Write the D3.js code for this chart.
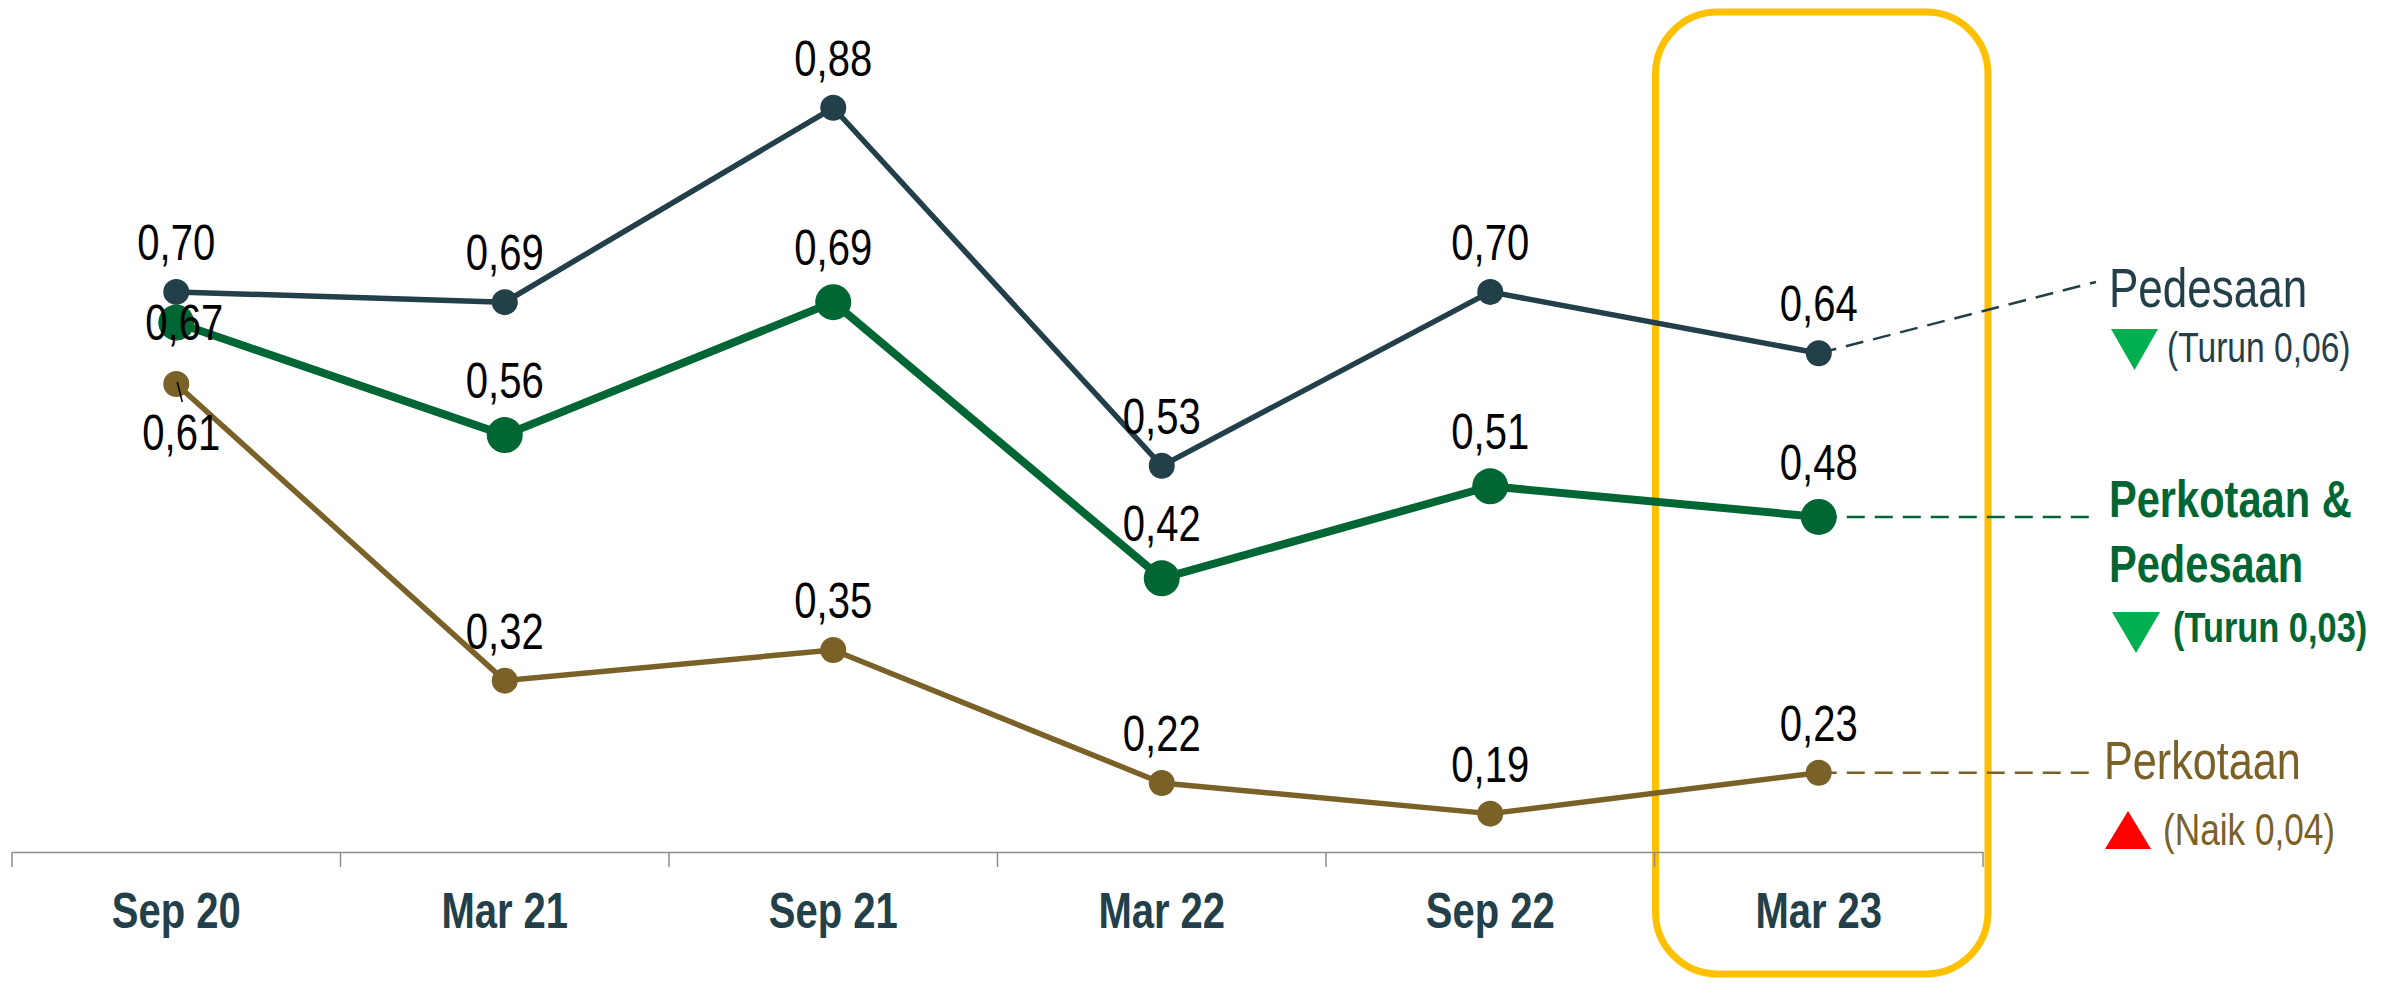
<!DOCTYPE html>
<html>
<head>
<meta charset="utf-8">
<script src="https://cdn.jsdelivr.net/npm/d3@7"></script>
<style>
    body { margin: 0; background: #ffffff; }
    svg text { font-family: "Liberation Sans", Arial, sans-serif; }
</style>
</head>
<body>
<div id="chart"></div>
<script>
// periods on the x axis
const periods = ["Sep 20", "Mar 21", "Sep 21", "Mar 22", "Sep 22", "Mar 23"];

// series values (Indeks Keparahan Kemiskinan)
const pedesaan = [0.70, 0.69, 0.88, 0.53, 0.70, 0.64];
const gabungan = [0.67, 0.56, 0.69, 0.42, 0.51, 0.48];
const perkotaan = [0.61, 0.32, 0.35, 0.22, 0.19, 0.23];

const W = 2387, H = 983;
// no narrow font installed, so squeeze the text horizontally
const NARROW = 0.8;

const svg = d3.select("#chart").append("svg")
    .attr("width", W)
    .attr("height", H);

// scales
const x = d3.scaleBand().domain(periods).range([12, 1983]);
const y = d3.scaleLinear().domain([0, 1]).range([1008, -15]);
const cx = (d) => x(d) + x.bandwidth() / 2;
const axisY = 852;

const fmt = (v) => d3.format(".2f")(v).replace(".", ",");
const place = (px, py) => `translate(${px},${py}) scale(${NARROW},1)`;

// highlight box around the latest period
svg.append("rect")
    .attr("x", x("Mar 23") + 1)
    .attr("y", 12)
    .attr("width", x.bandwidth() + 4)
    .attr("height", 962)
    .attr("rx", 62)
    .attr("ry", 62)
    .attr("fill", "none")
    .attr("stroke", "#ffc000")
    .attr("stroke-width", 7);

// x axis
const xAxis = d3.axisBottom(x).tickSize(0).tickSizeOuter(0);
const xAxisGroup = svg.append("g")
    .attr("class", "axis x-axis")
    .attr("transform", "translate(0," + axisY + ")")
    .call(xAxis);
xAxisGroup.select(".domain").attr("stroke", "#8c8c8c").attr("stroke-width", 1.5);
xAxisGroup.selectAll("text")
    .attr("y", 0)
    .attr("dy", 0)
    .attr("transform", place(0, 76))
    .attr("font-size", "50px")
    .attr("font-weight", "bold")
    .attr("fill", "#223f4a")
    .style("font-family", "'Liberation Sans', Arial, sans-serif");

// ticks between the bands
const bounds = periods.map((p) => x(p)).concat([x.range()[1]]);
xAxisGroup.selectAll("line.sep")
    .data(bounds)
    .enter()
    .append("line")
    .attr("class", "sep")
    .attr("x1", (d) => d)
    .attr("x2", (d) => d)
    .attr("y1", 0)
    .attr("y2", 15)
    .attr("stroke", "#8c8c8c")
    .attr("stroke-width", 1.5);

const series = [
    { name: "pedesaan", values: pedesaan, color: "#223f4a", width: 5.5, r: 13 },
    { name: "gabungan", values: gabungan, color: "#006633", width: 8, r: 18 },
    { name: "perkotaan", values: perkotaan, color: "#7a6128", width: 5.5, r: 13 },
];

// dashed leaders to the annotations on the right
const last = periods.length - 1;
const leaders = [
    { s: pedesaan, ty: 282, color: "#223f4a" },
    { s: gabungan, ty: null, color: "#006633" },
    { s: perkotaan, ty: null, color: "#7a6128" },
];
svg.selectAll("line.leader")
    .data(leaders)
    .enter()
    .append("line")
    .attr("class", "leader")
    .attr("x1", cx(periods[last]))
    .attr("y1", (d) => y(d.s[last]))
    .attr("x2", 2096)
    .attr("y2", (d) => (d.ty === null ? y(d.s[last]) : d.ty))
    .attr("stroke", (d) => d.color)
    .attr("stroke-width", 2.5)
    .attr("stroke-dasharray", "18,10");

const line = d3.line()
    .x((d, i) => cx(periods[i]))
    .y((d) => y(d));

series.forEach((s) => {
    svg.append("path")
        .datum(s.values)
        .attr("fill", "none")
        .attr("stroke", s.color)
        .attr("stroke-width", s.width)
        .attr("stroke-linejoin", "round")
        .attr("d", line);
});

series.forEach((s) => {
    svg.append("g")
        .selectAll("circle")
        .data(s.values)
        .enter()
        .append("circle")
        .attr("cx", (d, i) => cx(periods[i]))
        .attr("cy", (d) => y(d))
        .attr("r", s.r)
        .attr("fill", s.color);
});

// leader tick for 0,61
svg.append("line")
    .attr("x1", cx(periods[0]) + 1)
    .attr("y1", y(perkotaan[0]) - 2)
    .attr("x2", cx(periods[0]) + 6)
    .attr("y2", y(perkotaan[0]) + 18)
    .attr("stroke", "#000")
    .attr("stroke-width", 1.5);

// value labels
const labelOffset = {
    gabungan: { 0: { dx: 8, dy: 17 } },
    perkotaan: { 0: { dx: 5, dy: 66 } },
};
series.forEach((s) => {
    svg.append("g")
        .selectAll("text")
        .data(s.values)
        .enter()
        .append("text")
        .attr("transform", (d, i) => {
            const o = (labelOffset[s.name] || {})[i];
            const px = cx(periods[i]) + (o ? o.dx : 0);
            const py = y(d) + (o ? o.dy : -(s.r + 19));
            return place(px, py);
        })
        .attr("text-anchor", "middle")
        .attr("font-size", "50px")
        .attr("fill", "#000")
        .text((d) => fmt(d));
});

// right-hand annotations
const ann = svg.append("g").attr("class", "annotations");

ann.append("text").attr("transform", place(2109, 307))
    .attr("font-size", "55px").attr("fill", "#223f4a").text("Pedesaan");
ann.append("path").attr("d", "M2111,329 L2158,329 L2134.5,370 Z").attr("fill", "#00b050");
ann.append("text").attr("transform", place(2167, 362))
    .attr("font-size", "42px").attr("fill", "#223f4a").text("(Turun 0,06)");

ann.append("text").attr("transform", place(2109, 517))
    .attr("font-size", "52px").attr("font-weight", "bold").attr("fill", "#006633").text("Perkotaan &");
ann.append("text").attr("transform", place(2109, 582))
    .attr("font-size", "52px").attr("font-weight", "bold").attr("fill", "#006633").text("Pedesaan");
ann.append("path").attr("d", "M2112,612 L2160,612 L2136,653 Z").attr("fill", "#00b050");
ann.append("text").attr("transform", place(2173, 642))
    .attr("font-size", "43px").attr("font-weight", "bold").attr("fill", "#006633").text("(Turun 0,03)");

ann.append("text").attr("transform", place(2104, 779))
    .attr("font-size", "54px").attr("fill", "#7a6128").text("Perkotaan");
ann.append("path").attr("d", "M2105,849 L2151,849 L2128,811 Z").attr("fill", "#ff0000");
ann.append("text").attr("transform", place(2163, 845))
    .attr("font-size", "44px").attr("fill", "#7a6128").text("(Naik 0,04)");
</script>
</body>
</html>
